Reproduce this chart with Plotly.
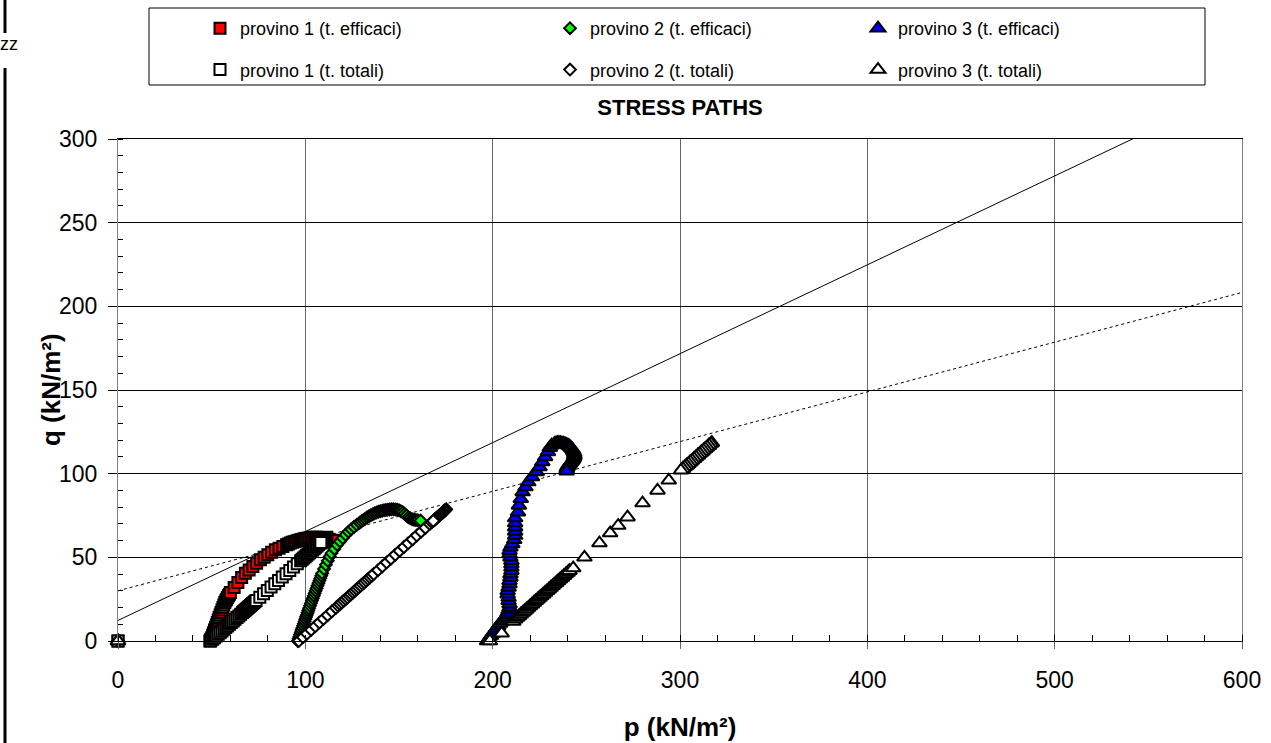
import plotly.graph_objects as go

# ---------------- data ----------------
# reference lines
LINE_SOLID_P = [0, 550]
LINE_SOLID_Q = [12.3, 304.5]
LINE_DOT_P = [0, 604]
LINE_DOT_Q = [30, 209.5]

# provino 1 (t. efficaci)
P1E_P = [0, 49, 49.5, 50, 50.5, 51, 51.5, 52, 52.5, 53, 53.5, 54, 54.5, 55, 55.5, 56, 56.5, 57, 57.5, 58, 58.5, 59, 59.5, 60,
         62, 64, 66, 68, 70, 72, 74, 76, 78, 80, 82, 84, 86, 88, 90,
         91, 92, 93, 94, 95, 96, 97, 98, 99, 100, 101, 102, 103, 104, 105, 106, 107, 108, 109, 110, 111, 112, 113, 114, 115]
P1E_Q = [0, 0, 1, 2, 3.5, 5, 6.5, 8, 9.5, 11, 12.5, 14, 15.5, 17, 18.5, 20, 21.5, 23, 24, 25, 26, 27, 28, 29,
         32, 35, 38, 40.5, 42.5, 44.5, 46.5, 48.5, 50, 51.5, 53, 54.5, 55.5, 56.5, 57.5,
         58, 58.5, 59, 59.3, 59.6, 60, 60.3, 60.6, 61, 61.2, 61.4, 61.6, 61.8, 62, 62, 62, 61.9, 61.7, 61.5, 61.2, 61, 60.7, 60.4, 60.2, 60]

# provino 1 (t. totali)
P1T_P = [0, 49.5, 50.5, 51.5, 52.5, 53.5, 54.5, 55.5, 56.5, 57.5, 58.5, 59.5, 60.5, 61.5, 62.5, 63.5, 64.5, 65.5, 66.5,
         67.1, 67.7, 68.3, 68.9, 69.5, 70.1, 70.7, 71.3, 71.9, 72.5, 73.1, 73.7,
         75.7, 77.7, 79.7, 81.7, 83.7, 85.7, 87.7, 89.7, 91.7, 93.7, 95.7,
         97.5, 98.3, 99.1, 99.9, 100.7, 101.5, 102.3, 103.1, 103.9, 104.7, 105.5, 106.3, 107.1, 107.9, 108.7, 109.5, 110.3, 111.1, 111.5,
         110.9, 110.3, 109.7, 109.1, 108.6, 108.3]
P1T_Q = [0, 0, 1, 2, 3, 4, 5, 6, 7, 8, 9, 10, 11, 12, 13, 14, 15, 16, 17,
         17.6, 18.2, 18.8, 19.4, 20, 20.6, 21.2, 21.8, 22.4, 23, 23.6, 24.2,
         26.2, 28.2, 30.2, 32.2, 34.2, 36.2, 38.2, 40.2, 42.2, 44.2, 46.2,
         48, 48.8, 49.6, 50.4, 51.2, 52, 52.8, 53.6, 54.4, 55.2, 56, 56.8, 57.6, 58.4, 59.2, 60, 60.8, 61.6, 62,
         61.4, 60.8, 60.2, 59.6, 59.1, 58.8]

# provino 2 (t. efficaci)
P2E_P = [0, 96, 96.4, 96.8, 97.2, 97.6, 98, 98.4, 98.8, 99.2, 99.6, 100, 100.4, 100.8, 101.2, 101.6, 102,
         102.5, 103, 103.5, 104, 104.5, 105, 105.5, 106, 106.5, 107, 107.5, 108, 108.5, 109,
         110, 111, 112, 113, 114,
         115.5, 117, 118.5, 120, 121.5, 123, 124.5, 126, 127.5, 129,
         130, 131, 132, 133, 134, 135, 136, 137, 138, 139, 140, 141, 142, 143, 144, 145, 146, 147, 148, 149,
         150, 151, 152, 153, 154, 155, 156, 157, 158, 159, 160, 161.5]
P2E_Q = [0, 0, 1.3, 2.6, 3.9, 5.2, 6.5, 7.8, 9.1, 10.4, 11.7, 13, 14.3, 15.6, 16.9, 18.2, 19.5,
         21, 22.5, 24, 25.5, 27, 28.5, 30, 31.5, 33, 34.5, 36, 37.5, 39, 40.5,
         43, 45.5, 48, 50.5, 52.5,
         55, 57.5, 59.5, 61.5, 63.5, 65.3, 66.8, 68.2, 69.5, 70.7,
         71.5, 72.3, 73.1, 73.9, 74.6, 75.2, 75.8, 76.3, 76.8, 77.2, 77.6, 77.9, 78.1, 78.3, 78.5, 78.6, 78.7, 78.7, 78.6, 78.4,
         78.1, 77.6, 76.9, 76, 75, 74, 73.3, 72.8, 72.5, 72.3, 72.2, 72]

# provino 2 (t. totali)
P2T_P = [0, 96.5, 98.7, 100.9, 103.1, 105.3, 107.5, 109.7, 111.9, 114.1, 116.3,
         117.5, 118.5, 119.5, 120.5, 121.5, 122.5, 123.5, 124.5, 125.5, 126.5, 127.5, 128.5, 129.5, 130.5, 131.5, 132.5, 133.5, 134.5, 135.5, 136.5,
         138.8, 141.1, 143.4, 145.7, 148, 150.3, 152.6, 154.9, 157.2, 159.5, 161.8, 164.1, 166.4,
         167.5, 168.5, 169.5, 170.5, 171.5, 172.5, 173.5, 174.5, 175.2,
         174.7, 174.1, 173.5, 172.9, 172.3, 171.7, 171.1, 170.5, 169.9, 169.3, 168.7, 168.3]
P2T_Q = [0, 0, 2.2, 4.4, 6.6, 8.8, 11, 13.2, 15.4, 17.6, 19.8,
         21, 22, 23, 24, 25, 26, 27, 28, 29, 30, 31, 32, 33, 34, 35, 36, 37, 38, 39, 40,
         42.3, 44.6, 46.9, 49.2, 51.5, 53.8, 56.1, 58.4, 60.7, 63, 65.3, 67.6, 69.9,
         71, 72, 73, 74, 75, 76, 77, 78, 78.7,
         78.2, 77.6, 77, 76.4, 75.8, 75.2, 74.6, 74, 73.4, 72.8, 72.2, 71.8]

# provino 3 (t. efficaci)
P3E_P = [0, 197, 198, 199, 200, 201, 202, 203, 204, 205, 206, 207, 207.5, 208, 208.5, 209, 209, 208.5, 208.5, 208, 208,
         208.5, 209, 209, 209.5, 209.5, 210, 210, 210, 210, 209.5, 209, 209, 209.5, 210.5,
         211.5, 212, 212, 212, 212, 212, 213.5, 214, 215, 216, 217.5, 219, 221, 223.5, 225, 226.5, 228, 229.5, 230.5, 231.5,
         233, 233.8, 234.6, 235.4, 236.2, 237, 237.8, 238.6, 239.4, 240.2, 241, 241.7, 242.3, 242.8, 243.2, 243.5, 243.6,
         243.6, 243.4, 243, 242.5, 242, 241.4, 240.8, 240.3, 239.9, 239.6, 239.5, 239.5]
P3E_Q = [0, 0, 1.5, 3, 4.5, 6, 7.5, 9, 10.5, 12, 13, 14, 15.5, 17, 18.5, 20, 22, 24, 26, 28, 30,
         32, 34, 36, 38, 40, 42, 44, 46, 48, 50, 52, 54, 56, 58,
         60.5, 63, 65.5, 68, 70.5, 73.5, 77, 81, 85, 89, 92, 95, 98, 101, 104, 107, 110, 113, 115.5, 117,
         118, 118.3, 118.5, 118.5, 118.4, 118.3, 118.1, 117.8, 117.4, 117, 116.4, 115.7, 115, 114.2, 113.3, 112.4, 111.5,
         110.6, 109.7, 108.8, 108, 107.2, 106.4, 105.6, 104.8, 104, 103.2, 102.4, 101.5]

# provino 3 (t. totali)
P3T_P = [0, 198.5, 204.8, 211,
         212, 213, 214, 215, 216, 217, 218, 219, 220, 221, 222, 223, 224, 225, 226, 227, 228, 229, 230, 231, 232, 233, 234, 235, 236, 237, 238, 239, 240, 241,
         243, 249, 257, 262.7, 267, 272, 280, 288, 294,
         301.5, 303.5, 305.5, 307.5, 309.5, 311.5, 313.5, 315.5, 317,
         316.5, 315.5, 314.5, 313.5, 312.5, 311.5, 310.5, 309.5, 308.5, 307.5, 306.5, 305.5, 304.5, 303.5, 302.5, 301.5, 300.5]
P3T_Q = [0, 0, 4.6, 11.6,
         13, 14, 15, 16, 17, 18, 19, 20, 21, 22, 23, 24, 25, 26, 27, 28, 29, 30, 31, 32, 33, 34, 35, 36, 37, 38, 39, 40, 41, 42,
         43.6, 50, 58.5, 64.5, 69, 74, 82.4, 90, 96,
         103, 105, 107, 109, 111, 113, 115, 117, 118.5,
         118, 117, 116, 115, 114, 113, 112, 111, 110, 109, 108, 107, 106, 105, 104, 103, 102]

X_TICKS = [0, 100, 200, 300, 400, 500, 600]
Y_TICKS = [0, 50, 100, 150, 200, 250, 300]

for a, b in [(P1E_P, P1E_Q), (P1T_P, P1T_Q), (P2E_P, P2E_Q), (P2T_P, P2T_Q), (P3E_P, P3E_Q), (P3T_P, P3T_Q)]:
    assert len(a) == len(b), (len(a), len(b))

# ---------------- figure ----------------
ARIAL = "Liberation Sans, Arial, sans-serif"

W, H = 1271, 743
L, R, T, B = 118, 29, 139, 102
PW, PH = W - L - R, H - T - B


def px(xp):
    return (xp - L) / PW


def py(yp):
    return (H - B - yp) / PH


fig = go.Figure()

fig.add_trace(go.Scatter(x=LINE_SOLID_P, y=LINE_SOLID_Q, mode="lines",
                         line=dict(color="black", width=1), showlegend=False, hoverinfo="skip"))
fig.add_trace(go.Scatter(x=LINE_DOT_P, y=LINE_DOT_Q, mode="lines",
                         line=dict(color="black", width=1, dash="3px,3px"), showlegend=False, hoverinfo="skip"))

series = [
    ("provino 1 (t. efficaci)", P1E_P, P1E_Q, "square", "#FF0000", 11, "legend"),
    ("provino 2 (t. efficaci)", P2E_P, P2E_Q, "diamond", "#00FF00", 9, "legend2"),
    ("provino 3 (t. efficaci)", P3E_P, P3E_Q, "triangle-up", "#0000FF", 13, "legend3"),
    ("provino 1 (t. totali)", P1T_P, P1T_Q, "square", "#FFFFFF", 11, "legend"),
    ("provino 2 (t. totali)", P2T_P, P2T_Q, "diamond", "#FFFFFF", 9, "legend2"),
    ("provino 3 (t. totali)", P3T_P, P3T_Q, "triangle-up", "#FFFFFF", 13, "legend3"),
]
for name, xs, ys, sym, col, size, leg in series:
    fig.add_trace(go.Scatter(
        x=xs, y=ys, mode="markers", name=name, legend=leg, legendgroup=name,
        marker=dict(symbol=sym, color=col, size=size, line=dict(color="black", width=2)),
        cliponaxis=False,
    ))

legend_common = dict(
    bgcolor="rgba(0,0,0,0)", borderwidth=0, orientation="v",
    font=dict(family=ARIAL, size=18, color="black"),
    tracegroupgap=15, xanchor="left", yanchor="top", itemclick=False,
)
fig.update_layout(
    legend=dict(x=px(200), y=py(10), **legend_common),
    legend2=dict(x=px(550), y=py(10), **legend_common),
    legend3=dict(x=px(858), y=py(10), **legend_common),
)

fig.update_layout(
    width=W, height=H,
    margin=dict(l=L, r=R, t=T, b=B, pad=0, autoexpand=False),
    paper_bgcolor="white", plot_bgcolor="white",
    title=dict(text="STRESS PATHS", x=0.5, xref="paper", xanchor="center",
               y=1 - 107 / H, yanchor="middle",
               font=dict(family=ARIAL, size=22, color="black", weight="bold")),
    xaxis=dict(
        range=[0, 600], tickvals=X_TICKS, ticktext=[str(v) for v in X_TICKS],
        showgrid=True, gridcolor="#666666", gridwidth=1, automargin=False,
        zeroline=False, showline=True, linecolor="black", linewidth=1, mirror=True,
        ticks="outside", ticklen=7, tickcolor="#666666", tickwidth=1,
        minor=dict(ticks="inside", dtick=20, ticklen=6, tickcolor="black", showgrid=False),
        tickfont=dict(family=ARIAL, size=23, color="black"),
        ticklabelstandoff=11,
        title=dict(text="p (kN/m²)", standoff=26,
                   font=dict(family=ARIAL, size=26, color="black", weight="bold")),
    ),
    yaxis=dict(
        range=[0, 300], tickvals=Y_TICKS, ticktext=[str(v) for v in Y_TICKS],
        showgrid=True, gridcolor="black", gridwidth=1, automargin=False,
        zeroline=False, showline=True, linecolor="#808080", linewidth=1, mirror=True,
        ticks="outside", ticklen=9, tickcolor="black", tickwidth=1,
        minor=dict(ticks="inside", dtick=10, ticklen=5, tickcolor="black", showgrid=False),
        tickfont=dict(family=ARIAL, size=23, color="black"),
        ticklabelstandoff=6,
    ),
    shapes=[
        dict(type="rect", xref="paper", yref="paper", x0=px(149), x1=px(1205), y0=py(8), y1=py(85),
             line=dict(color="black", width=1), fillcolor="rgba(0,0,0,0)", layer="above"),
        dict(type="line", xref="paper", yref="paper", x0=px(5), x1=px(5), y0=py(0), y1=py(33),
             line=dict(color="black", width=3)),
        dict(type="line", xref="paper", yref="paper", x0=px(5), x1=px(5), y0=py(68), y1=py(743),
             line=dict(color="black", width=3)),
    ],
    annotations=[
        dict(text="q (kN/m²)", xref="paper", yref="paper", x=px(51), y=0.5, xanchor="center", yanchor="middle",
             textangle=-90, showarrow=False,
             font=dict(family=ARIAL, size=26, color="black", weight="bold")),
        dict(text="zz", xref="paper", yref="paper", x=px(-2), y=py(44), xanchor="left", yanchor="middle",
             showarrow=False, font=dict(family=ARIAL, size=18, color="black")),
    ],
)

fig.write_html("out.html", config={"displayModeBar": False},
               post_script="document.body.style.margin='0';document.body.style.overflow='hidden';")
